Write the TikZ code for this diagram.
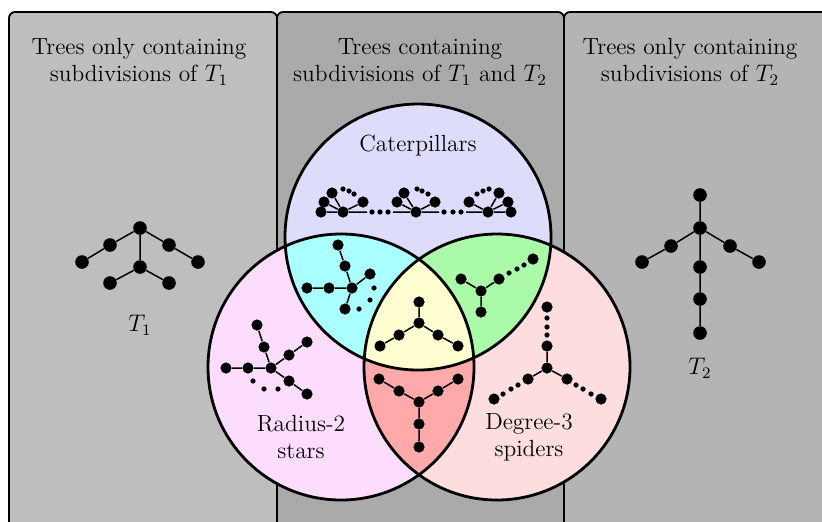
\documentclass[tikz,border=0pt]{standalone}
\begin{document}
\begin{tikzpicture}[x=0.5pt,y=-0.5pt,
  v/.style={circle,fill=black,inner sep=0pt,minimum size=5.6pt},
  vb/.style={circle,fill=black,inner sep=0pt,minimum size=6.8pt},
  sd/.style={circle,fill=black,inner sep=0pt,minimum size=2.6pt},
  ed/.style={line width=0.75pt},
  box/.style={draw=black,line width=0.9pt,rounded corners=3pt},
  venn/.style={line width=1.4pt},
  lab/.style={align=center,font=\fontsize{11.7}{13.5}\selectfont,inner sep=0pt}]
\clip (0,0) rectangle (822,521);
\definecolor{boxL}{RGB}{190,190,190}
\definecolor{boxM}{RGB}{170,170,170}
\definecolor{boxR}{RGB}{180,180,180}
\definecolor{cA}{RGB}{221,221,251}
\definecolor{cB}{RGB}{253,221,253}
\definecolor{cC}{RGB}{253,221,221}
\definecolor{cAB}{RGB}{170,255,255}
\definecolor{cAC}{RGB}{170,250,170}
\definecolor{cBC}{RGB}{255,170,170}
\definecolor{cABC}{RGB}{255,255,210}
% boxes
\filldraw[box,fill=boxL] (9,12) rectangle (277,545);
\filldraw[box,fill=boxR] (564,12) rectangle (835,545);
\filldraw[box,fill=boxM] (277,12) rectangle (564,545);
% headers
\node[lab] (hL) at (139,62) {Trees only containing\\subdivisions of $T_1$};
\node[lab] (hM) at (420,62) {Trees containing\\subdivisions of $T_1$ and $T_2$};
\node[lab] (hR) at (690,62) {Trees only containing\\subdivisions of $T_2$};
% venn
\coordinate (A) at (418,237);
\coordinate (B) at (341,367);
\coordinate (C) at (497,367);
\def\R{66.5pt}
\fill[cA] (A) circle[radius=\R];
\fill[cB] (B) circle[radius=\R];
\fill[cC] (C) circle[radius=\R];
\begin{scope}\clip (A) circle[radius=\R]; \fill[cAB] (B) circle[radius=\R];\end{scope}
\begin{scope}\clip (A) circle[radius=\R]; \fill[cAC] (C) circle[radius=\R];\end{scope}
\begin{scope}\clip (B) circle[radius=\R]; \fill[cBC] (C) circle[radius=\R];\end{scope}
\begin{scope}\clip (A) circle[radius=\R]; \clip (B) circle[radius=\R]; \fill[cABC] (C) circle[radius=\R];\end{scope}
\draw[venn] (A) circle[radius=\R];
\draw[venn] (B) circle[radius=\R];
\draw[venn] (C) circle[radius=\R];
\node[lab] (lA) at (418,146) {Caterpillars};
\node[lab] (lB) at (301,437) {Radius-2\\stars};
\node[lab] (lC) at (529,437) {Degree-3\\spiders};
% T1
\node[vb] (t1a) at (140,228) {};
\node[vb] (t1b) at (110,245) {};
\node[vb] (t1c) at (82,262) {};
\node[vb] (t1d) at (169,245) {};
\node[vb] (t1e) at (198,262) {};
\node[vb] (t1f) at (140,267) {};
\node[vb] (t1g) at (110,283) {};
\node[vb] (t1h) at (169,283) {};
\draw[ed] (t1c)--(t1b)--(t1a)--(t1d)--(t1e) (t1a)--(t1f) (t1g)--(t1f)--(t1h);
\node[lab] (lT1) at (140,325) {$T_1$};
% T2
\node[vb] (t2a) at (700,195) {};
\node[vb] (t2b) at (700,228) {};
\node[vb] (t2c) at (671,246) {};
\node[vb] (t2d) at (642,262) {};
\node[vb] (t2e) at (730,246) {};
\node[vb] (t2f) at (759,262) {};
\node[vb] (t2g) at (700,267) {};
\node[vb] (t2h) at (700,299) {};
\node[vb] (t2i) at (700,333) {};
\draw[ed] (t2a)--(t2b)--(t2c)--(t2d) (t2b)--(t2e)--(t2f) (t2b)--(t2g)--(t2h)--(t2i);
\node[lab] (lT2) at (700,368) {$T_2$};
% caterpillars
\node[v] (k1c) at (343,212) {};
\node[v] (k1l) at (321,212) {};
\node[v] (k1a) at (324,202) {};
\node[v] (k1b) at (332,193) {};
\node[v] (k1d) at (363,202) {};
\node[sd] (k1s1) at (343,189) {};
\node[sd] (k1s2) at (349,191) {};
\node[sd] (k1s3) at (354,194) {};
\coordinate (k1e) at (367,212);
\draw[ed] (k1l)--(k1c)--(k1e) (k1a)--(k1c)--(k1b) (k1c)--(k1d);
\node[sd] (d1a) at (372,212) {};
\node[sd] (d1b) at (380,212) {};
\node[sd] (d1c) at (388,212) {};
\node[v] (k2c) at (416,212) {};
\node[v] (k2a) at (397,202) {};
\node[v] (k2b) at (404,193) {};
\node[v] (k2d) at (435,202) {};
\node[sd] (k2s1) at (417,189) {};
\node[sd] (k2s2) at (422,191) {};
\node[sd] (k2s3) at (428,194) {};
\coordinate (k2l) at (393,212);
\coordinate (k2e) at (439,212);
\draw[ed] (k2l)--(k2c)--(k2e) (k2a)--(k2c)--(k2b) (k2c)--(k2d);
\node[sd] (d2a) at (444,212) {};
\node[sd] (d2b) at (453,212) {};
\node[sd] (d2c) at (461,212) {};
\node[v] (k3c) at (488,212) {};
\node[v] (k3r) at (511,212) {};
\node[v] (k3a) at (469,202) {};
\node[v] (k3b) at (499,193) {};
\node[v] (k3d) at (508,202) {};
\node[sd] (k3s1) at (477,194) {};
\node[sd] (k3s2) at (483,191) {};
\node[sd] (k3s3) at (489,189) {};
\coordinate (k3l) at (466,212);
\draw[ed] (k3l)--(k3c)--(k3r) (k3a)--(k3c)--(k3b) (k3c)--(k3d);
% cyan region
\node[v] (ca) at (352,288) {};
\node[v] (cb) at (329,288) {};
\node[v] (cc) at (307,288) {};
\node[v] (cd) at (345,266) {};
\node[v] (ce) at (338,245) {};
\node[v] (cf) at (370,274) {};
\node[v] (cg) at (345,309) {};
\node[sd] (cs1) at (374,288) {};
\node[sd] (cs2) at (370,300) {};
\node[sd] (cs3) at (359,309) {};
\draw[ed] (cc)--(cb)--(ca)--(cd)--(ce) (ca)--(cf) (ca)--(cg);
% green region
\node[v] (ga) at (481,291) {};
\node[v] (gb) at (461,279) {};
\node[v] (gc) at (499,279) {};
\node[v] (gd) at (481,312) {};
\node[sd] (gs1) at (509,273) {};
\node[sd] (gs2) at (517,269) {};
\node[sd] (gs3) at (524,265) {};
\node[v] (ge) at (533,259) {};
\draw[ed] (gb)--(ga)--(gc) (ga)--(gd);
% yellow region
\node[v] (ya) at (419,302) {};
\node[v] (yb) at (419,323) {};
\node[v] (yc) at (399,335) {};
\node[v] (yd) at (380,346) {};
\node[v] (ye) at (438,335) {};
\node[v] (yf) at (458,346) {};
\draw[ed] (ya)--(yb)--(yc)--(yd) (yb)--(ye)--(yf);
% red region
\node[v] (ra) at (379,379) {};
\node[v] (rb) at (399,391) {};
\node[v] (rc) at (419,402) {};
\node[v] (rd) at (438,391) {};
\node[v] (re) at (458,379) {};
\node[v] (rf) at (419,424) {};
\node[v] (rg) at (419,447) {};
\draw[ed] (ra)--(rb)--(rc)--(rd)--(re) (rc)--(rf)--(rg);
% radius-2 star
\node[v] (pa) at (271,368) {};
\node[v] (pb) at (248,368) {};
\node[v] (pc) at (226,368) {};
\node[v] (pd) at (264,347) {};
\node[v] (pe) at (257,325) {};
\node[v] (pf) at (289,355) {};
\node[v] (pg) at (307,342) {};
\node[v] (ph) at (289,381) {};
\node[v] (pi) at (307,394) {};
\node[sd] (ps1) at (253,381) {};
\node[sd] (ps2) at (264,389) {};
\node[sd] (ps3) at (278,389) {};
\draw[ed] (pc)--(pb)--(pa)--(pd)--(pe) (pa)--(pf)--(pg) (pa)--(ph)--(pi);
% degree-3 spider
\node[v] (sa) at (547,368) {};
\node[v] (sb) at (547,346) {};
\node[sd] (su1) at (547,335) {};
\node[sd] (su2) at (547,327) {};
\node[sd] (su3) at (547,318) {};
\node[v] (sc) at (547,307) {};
\node[v] (sd1) at (528,379) {};
\node[sd] (sl1) at (518,385) {};
\node[sd] (sl2) at (511,389) {};
\node[sd] (sl3) at (503,394) {};
\node[v] (se) at (494,399) {};
\node[v] (sf) at (567,379) {};
\node[sd] (sr1) at (576,385) {};
\node[sd] (sr2) at (583,389) {};
\node[sd] (sr3) at (591,394) {};
\node[v] (sg) at (601,399) {};
\draw[ed] (sb)--(sa)--(sd1) (sa)--(sf);
\end{tikzpicture}
\end{document}
